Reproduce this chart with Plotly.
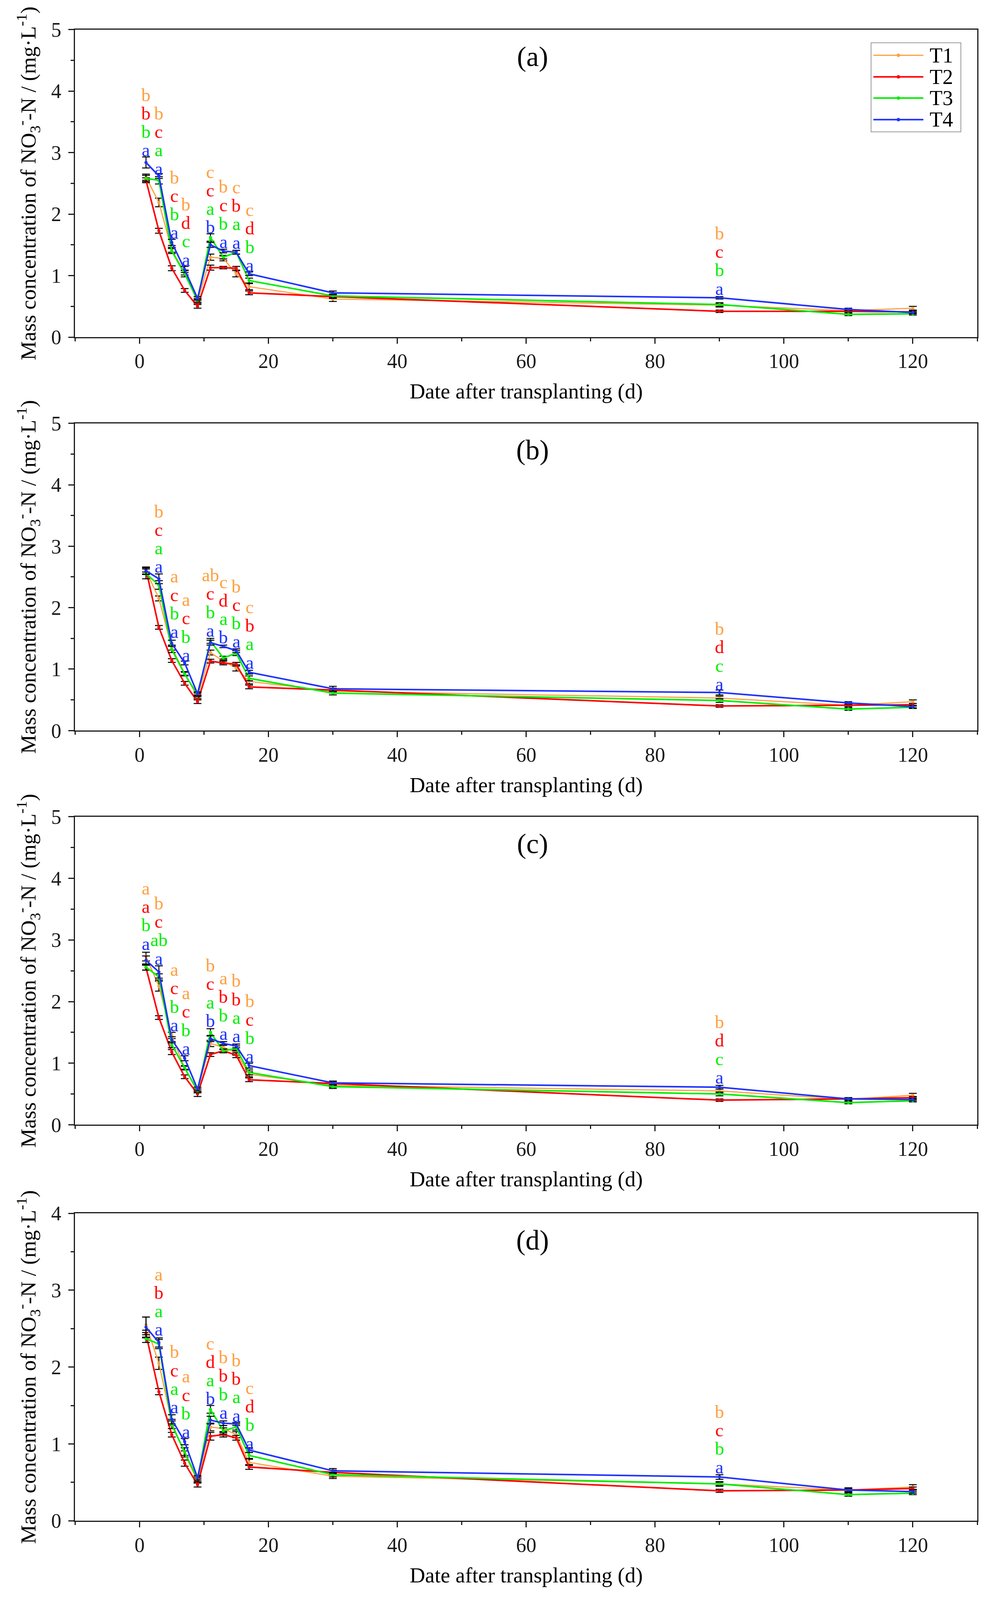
import plotly.graph_objects as go

# ---------------- data ----------------
days = [1, 3, 5, 7, 9, 11, 13, 15, 17, 30, 90, 110, 120]
series_names = ["T1", "T2", "T3", "T4"]
panel_tags = ["(a)", "(b)", "(c)", "(d)"]
panel_ymax = [5, 5, 5, 4]
x_ticks = [0, 20, 40, 60, 80, 100, 120]

# panel (a)
a_T1 = [2.60, 2.19, 1.42, 1.05, 0.58, 1.30, 1.28, 1.03, 0.82, 0.62, 0.52, 0.43, 0.47]
a_T2 = [2.55, 1.73, 1.12, 0.76, 0.50, 1.13, 1.13, 1.12, 0.72, 0.66, 0.42, 0.42, 0.41]
a_T3 = [2.58, 2.55, 1.40, 1.03, 0.60, 1.62, 1.30, 1.38, 0.92, 0.67, 0.53, 0.37, 0.38]
a_T4 = [2.84, 2.62, 1.54, 1.10, 0.63, 1.50, 1.40, 1.38, 1.03, 0.72, 0.64, 0.45, 0.40]
a_T1_err = [0.05, 0.07, 0.04, 0.04, 0.03, 0.05, 0.04, 0.05, 0.05, 0.04, 0.03, 0.02, 0.03]
a_T2_err = [0.04, 0.04, 0.04, 0.03, 0.03, 0.04, 0.02, 0.03, 0.03, 0.03, 0.02, 0.02, 0.02]
a_T3_err = [0.05, 0.06, 0.04, 0.05, 0.03, 0.06, 0.03, 0.03, 0.04, 0.03, 0.03, 0.02, 0.02]
a_T4_err = [0.09, 0.04, 0.05, 0.05, 0.03, 0.04, 0.03, 0.03, 0.03, 0.03, 0.02, 0.02, 0.02]

# panel (b)
b_T1 = [2.60, 2.15, 1.35, 0.93, 0.55, 1.27, 1.13, 1.02, 0.80, 0.64, 0.53, 0.41, 0.47]
b_T2 = [2.62, 1.68, 1.14, 0.77, 0.47, 1.13, 1.10, 1.08, 0.71, 0.66, 0.40, 0.41, 0.42]
b_T3 = [2.55, 2.37, 1.32, 0.92, 0.58, 1.46, 1.18, 1.26, 0.85, 0.61, 0.49, 0.35, 0.38]
b_T4 = [2.60, 2.47, 1.42, 1.10, 0.60, 1.43, 1.37, 1.30, 0.95, 0.68, 0.62, 0.45, 0.39]
b_T1_err = [0.05, 0.04, 0.04, 0.03, 0.03, 0.04, 0.04, 0.05, 0.04, 0.03, 0.03, 0.02, 0.03]
b_T2_err = [0.04, 0.03, 0.03, 0.03, 0.03, 0.03, 0.03, 0.03, 0.03, 0.03, 0.02, 0.02, 0.02]
b_T3_err = [0.08, 0.07, 0.05, 0.03, 0.03, 0.04, 0.03, 0.04, 0.04, 0.03, 0.03, 0.02, 0.02]
b_T4_err = [0.06, 0.08, 0.05, 0.03, 0.03, 0.04, 0.02, 0.03, 0.03, 0.04, 0.04, 0.02, 0.02]

# panel (c)
c_T1 = [2.73, 2.25, 1.45, 0.92, 0.55, 1.32, 1.26, 1.17, 0.82, 0.64, 0.55, 0.41, 0.48]
c_T2 = [2.55, 1.74, 1.18, 0.78, 0.50, 1.14, 1.20, 1.13, 0.73, 0.67, 0.40, 0.42, 0.44]
c_T3 = [2.56, 2.40, 1.30, 0.93, 0.55, 1.50, 1.20, 1.24, 0.85, 0.62, 0.50, 0.36, 0.39]
c_T4 = [2.67, 2.48, 1.38, 1.08, 0.58, 1.40, 1.32, 1.28, 0.96, 0.68, 0.61, 0.42, 0.41]
c_T1_err = [0.07, 0.08, 0.05, 0.03, 0.03, 0.05, 0.04, 0.04, 0.04, 0.03, 0.03, 0.02, 0.03]
c_T2_err = [0.04, 0.03, 0.04, 0.03, 0.04, 0.03, 0.03, 0.04, 0.03, 0.03, 0.02, 0.02, 0.02]
c_T3_err = [0.05, 0.05, 0.05, 0.03, 0.03, 0.06, 0.03, 0.04, 0.04, 0.03, 0.03, 0.02, 0.02]
c_T4_err = [0.07, 0.10, 0.05, 0.04, 0.03, 0.05, 0.03, 0.03, 0.04, 0.03, 0.03, 0.02, 0.02]

# panel (d)
d_T1 = [2.55, 2.05, 1.28, 0.87, 0.52, 1.22, 1.20, 1.12, 0.76, 0.58, 0.48, 0.40, 0.44]
d_T2 = [2.43, 1.68, 1.12, 0.75, 0.47, 1.10, 1.12, 1.08, 0.70, 0.63, 0.39, 0.40, 0.42]
d_T3 = [2.37, 2.30, 1.25, 0.90, 0.54, 1.45, 1.17, 1.22, 0.85, 0.60, 0.48, 0.34, 0.36]
d_T4 = [2.52, 2.32, 1.32, 1.03, 0.56, 1.31, 1.27, 1.26, 0.92, 0.65, 0.57, 0.40, 0.38]
d_T1_err = [0.10, 0.08, 0.04, 0.04, 0.03, 0.05, 0.04, 0.04, 0.04, 0.03, 0.02, 0.02, 0.03]
d_T2_err = [0.05, 0.04, 0.03, 0.04, 0.03, 0.05, 0.03, 0.03, 0.03, 0.03, 0.02, 0.02, 0.02]
d_T3_err = [0.05, 0.06, 0.05, 0.05, 0.03, 0.05, 0.04, 0.04, 0.04, 0.03, 0.03, 0.02, 0.02]
d_T4_err = [0.13, 0.06, 0.06, 0.04, 0.03, 0.05, 0.03, 0.02, 0.03, 0.03, 0.03, 0.03, 0.02]

# significance letters (columns follow letter_days; base = height of the lowest, T4, letter)
letter_days = [1, 3, 5.4, 7.2, 11, 13, 15, 17.1, 90]
a_letter_base = [3.04, 2.74, 1.70, 1.26, 1.79, 1.55, 1.54, 1.17, 0.79]
b_letter_base = [None, 2.67, 1.61, 1.23, 1.63, 1.52, 1.45, 1.11, 0.76]
c_letter_base = [2.94, 2.70, 1.62, 1.24, 1.69, 1.48, 1.44, 1.11, 0.77]
d_letter_base = [None, 2.49, 1.48, 1.16, 1.59, 1.41, 1.37, 1.01, 0.70]

a_T1_let = ["b", "b", "b", "b", "c", "b", "c", "c", "b"]
a_T2_let = ["b", "c", "c", "d", "c", "c", "b", "d", "c"]
a_T3_let = ["b", "a", "b", "c", "a", "b", "a", "b", "b"]
a_T4_let = ["a", "a", "a", "a", "b", "a", "a", "a", "a"]

b_T1_let = ["", "b", "a", "a", "ab", "c", "b", "c", "b"]
b_T2_let = ["", "c", "c", "c", "c", "d", "c", "b", "d"]
b_T3_let = ["", "a", "b", "b", "b", "a", "b", "a", "c"]
b_T4_let = ["", "a", "a", "a", "a", "b", "a", "a", "a"]

c_T1_let = ["a", "b", "a", "a", "b", "a", "b", "b", "b"]
c_T2_let = ["a", "c", "c", "c", "c", "b", "b", "c", "d"]
c_T3_let = ["b", "ab", "b", "b", "a", "b", "a", "b", "c"]
c_T4_let = ["a", "a", "a", "a", "b", "a", "a", "a", "a"]

d_T1_let = ["", "a", "b", "a", "c", "b", "b", "c", "b"]
d_T2_let = ["", "b", "c", "c", "d", "b", "b", "d", "c"]
d_T3_let = ["", "a", "a", "b", "a", "b", "a", "b", "b"]
d_T4_let = ["", "a", "a", "a", "b", "a", "a", "a", "a"]

# ---------------- assemble ----------------
panels = [
    dict(vals=[a_T1, a_T2, a_T3, a_T4], errs=[a_T1_err, a_T2_err, a_T3_err, a_T4_err],
         lets=[a_T1_let, a_T2_let, a_T3_let, a_T4_let], base=a_letter_base),
    dict(vals=[b_T1, b_T2, b_T3, b_T4], errs=[b_T1_err, b_T2_err, b_T3_err, b_T4_err],
         lets=[b_T1_let, b_T2_let, b_T3_let, b_T4_let], base=b_letter_base),
    dict(vals=[c_T1, c_T2, c_T3, c_T4], errs=[c_T1_err, c_T2_err, c_T3_err, c_T4_err],
         lets=[c_T1_let, c_T2_let, c_T3_let, c_T4_let], base=c_letter_base),
    dict(vals=[d_T1, d_T2, d_T3, d_T4], errs=[d_T1_err, d_T2_err, d_T3_err, d_T4_err],
         lets=[d_T1_let, d_T2_let, d_T3_let, d_T4_let], base=d_letter_base),
]

W, H = 2551, 5051  # reference proportions, used for relative (paper) placement
colors = ["#FFA040", "#FF0000", "#00EE00", "#1E32FF"]
lwidths = [3, 4, 4, 4]
FONT = "Liberation Serif"

x_dom = [192.4 / W, 2503 / W]
panel_px = [(59.8, 1044.3), (1320.2, 2303.9), (2579.7, 3565.9), (3849.5, 4833.7)]
y_doms = [[1 - b / H, 1 - t / H] for (t, b) in panel_px]

fig = go.Figure()
annotations = []
shapes = []

for p, pan in enumerate(panels):
    xa = "x" if p == 0 else f"x{p+1}"
    ya = "y" if p == 0 else f"y{p+1}"
    step = panel_ymax[p] * 0.06  # vertical spacing of stacked letters
    for s in range(4):
        fig.add_trace(go.Scatter(
            x=days, y=pan["vals"][s], mode="lines+markers", name=series_names[s],
            xaxis=xa, yaxis=ya, showlegend=False,
            line=dict(color=colors[s], width=lwidths[s]),
            marker=dict(color=colors[s], size=8, symbol="circle"),
            error_y=dict(type="data", array=pan["errs"][s], visible=True,
                         color="black", thickness=2.5, width=10),
        ))
    for j, xd in enumerate(letter_days):
        base = pan["base"][j]
        if base is None:
            continue
        for s in range(4):
            txt = pan["lets"][s][j]
            if not txt:
                continue
            annotations.append(dict(
                x=xd, y=base + (3 - s) * step, xref=xa, yref=ya, text=txt,
                showarrow=False, xanchor="center", yanchor="middle",
                font=dict(family=FONT, size=47, color=colors[s])))
    annotations.append(dict(
        x=61, y=1 - 86 / 984, xref=xa, yref=f"{ya} domain", text=panel_tags[p],
        showarrow=False, xanchor="center", yanchor="middle",
        font=dict(family=FONT, size=72, color="black")))

    axis_common = dict(showline=True, linecolor="#1a1a1a", linewidth=3, mirror=True,
                       showgrid=False, zeroline=False, ticks="outside", ticklen=14,
                       tickwidth=3, tickcolor="#1a1a1a",
                       tickfont=dict(family=FONT, size=52, color="#1a1a1a"))
    xaxis = dict(axis_common, domain=x_dom, anchor=ya, range=[-10, 130],
                 tickmode="array", tickvals=x_ticks,
                 minor=dict(ticks="outside", ticklen=8, tickwidth=3, dtick=10, tick0=0,
                            tickcolor="#1a1a1a"),
                 title=dict(text="Date after transplanting (d)", standoff=30,
                            font=dict(family=FONT, size=55, color="black")))
    yaxis = dict(axis_common, domain=y_doms[p], anchor=xa, range=[0, panel_ymax[p]],
                 dtick=1, tick0=0, ticklabelstandoff=8,
                 minor=dict(ticks="outside", ticklen=8, tickwidth=3, dtick=0.5, tick0=0,
                            tickcolor="#1a1a1a"),
                 title=dict(text="Mass concentration of NO<sub>3</sub><sup>-</sup>-N / (mg·L<sup>-1</sup>)",
                            standoff=22, font=dict(family=FONT, size=55, color="black")))
    fig.update_layout({("xaxis" if p == 0 else f"xaxis{p+1}"): xaxis,
                       ("yaxis" if p == 0 else f"yaxis{p+1}"): yaxis})

# legend box inside panel (a), placed relative to that panel's domain
ax0, ax1 = 192.4, 2503
def xd_frac(px):
    return (px - ax0) / (ax1 - ax0)
def yd_frac(px):
    return 1 - (px - 59.8) / (1044.3 - 59.8)

shapes.append(dict(type="rect", xref="x domain", yref="y domain",
                   x0=xd_frac(2231), x1=xd_frac(2461), y0=yd_frac(387), y1=yd_frac(102),
                   line=dict(color="#9a9a9a", width=2), fillcolor="white", layer="above"))
row_px = [142, 211, 279, 348]
for s in range(4):
    yy = yd_frac(row_px[s])
    shapes.append(dict(type="line", xref="x domain", yref="y domain",
                       x0=xd_frac(2237), x1=xd_frac(2365), y0=yy, y1=yy,
                       line=dict(color=colors[s], width=lwidths[s]), layer="above"))
    shapes.append(dict(type="circle", xref="x domain", yref="y domain",
                       xsizemode="pixel", ysizemode="pixel",
                       xanchor=xd_frac(2301), yanchor=yy,
                       x0=-4, x1=4, y0=-4, y1=4,
                       fillcolor=colors[s], line=dict(color=colors[s], width=1), layer="above"))
    annotations.append(dict(x=xd_frac(2379), y=yy, xref="x domain", yref="y domain",
                            text=series_names[s], showarrow=False,
                            xanchor="left", yanchor="middle",
                            font=dict(family=FONT, size=54, color="black")))

fig.update_layout(autosize=True,
                  margin=dict(l=0, r=0, t=0, b=0),
                  paper_bgcolor="white", plot_bgcolor="white",
                  annotations=annotations, shapes=shapes, showlegend=False)

fig.write_html(
    "out.html",
    config={"responsive": True, "displayModeBar": False},
    default_width="100vw",
    default_height="100vh",
    post_script=("document.body.style.margin='0';"
                 "document.documentElement.style.overflow='hidden';"
                 "document.body.style.overflow='hidden';"
                 "Plotly.Plots.resize(document.getElementById('{plot_id}'));"),
)
